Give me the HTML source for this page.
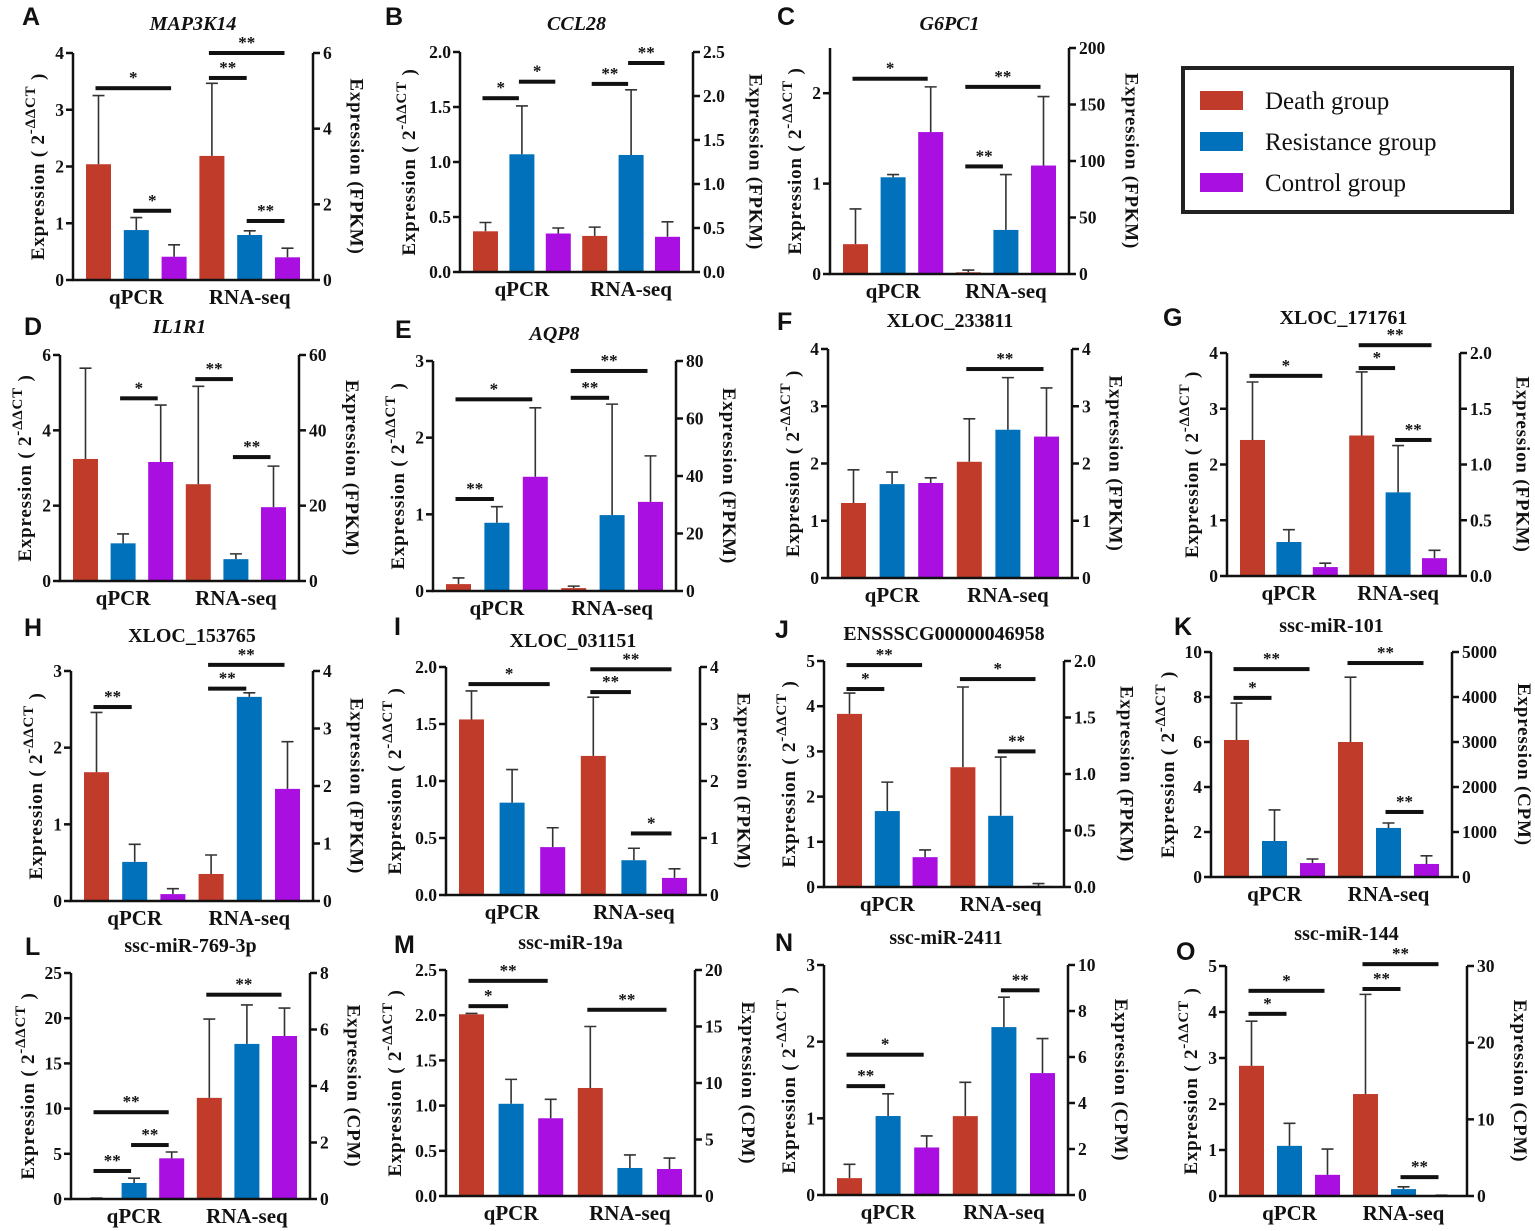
<!DOCTYPE html>
<html><head><meta charset="utf-8"><style>
body{margin:0;background:#fff}
svg{display:block}
.tk{font-family:"Liberation Serif",serif;font-weight:bold;font-size:17.5px;fill:#111}
.ax{font-family:"Liberation Serif",serif;font-weight:bold;font-size:19px;letter-spacing:0.8px;fill:#111}
.cat{font-family:"Liberation Serif",serif;font-weight:bold;font-size:21px;fill:#111}
.ttl{font-family:"Liberation Serif",serif;font-weight:bold;font-size:20px;fill:#111}
.let{font-family:"Liberation Sans",sans-serif;font-weight:bold;font-size:25px;fill:#111}
.st{font-family:"Liberation Serif",serif;font-weight:bold;font-size:17px;fill:#111}
.lg{font-family:"Liberation Serif",serif;font-size:25px;fill:#111}
</style></head><body>
<svg id="fig" width="1535" height="1231" viewBox="0 0 1535 1231" xmlns="http://www.w3.org/2000/svg">
<g>
<rect x="1183" y="68" width="329" height="144" fill="#fff" stroke="#222" stroke-width="4"/>
<rect x="1200" y="91" width="43" height="19" fill="#C13B2B"/>
<text class="lg" x="1265" y="109">Death group</text>
<rect x="1200" y="132" width="43" height="19" fill="#0071BA"/>
<text class="lg" x="1265" y="150">Resistance group</text>
<rect x="1200" y="173" width="43" height="19" fill="#A80FE0"/>
<text class="lg" x="1265" y="191">Control group</text>
</g>
</svg>
<script>
const panelIds=["A","B","C","D","E","F","G","H","I","J","K","L","M","N","O"];
const titles=["MAP3K14","CCL28","G6PC1","IL1R1","AQP8","XLOC_233811","XLOC_171761","XLOC_153765","XLOC_031151","ENSSSCG00000046958","ssc-miR-101","ssc-miR-769-3p","ssc-miR-19a","ssc-miR-2411","ssc-miR-144"];
const italicTitle=[1,1,1,1,1,0,0,0,0,0,0,0,0,0,0];
const rightUnits=["FPKM","FPKM","FPKM","FPKM","FPKM","FPKM","FPKM","FPKM","FPKM","FPKM","CPM","CPM","CPM","CPM","CPM"];
const leftMax=[4,2,2.5,6,3,4,4,3,2,5,10,25,2.5,3,5];
const rightMax=[6,2.5,200,60,80,4,2,4,4,2,5000,8,20,10,30];
const leftTicks=[["0","1","2","3","4"],["0.0","0.5","1.0","1.5","2.0"],["0","1","2"],["0","2","4","6"],["0","1","2","3"],["0","1","2","3","4"],["0","1","2","3","4"],["0","1","2","3"],["0.0","0.5","1.0","1.5","2.0"],["0","1","2","3","4","5"],["0","2","4","6","8","10"],["0","5","10","15","20","25"],["0.0","0.5","1.0","1.5","2.0","2.5"],["0","1","2","3"],["0","1","2","3","4","5"]];
const rightTicks=[["0","2","4","6"],["0.0","0.5","1.0","1.5","2.0","2.5"],["0","50","100","150","200"],["0","20","40","60"],["0","20","40","60","80"],["0","1","2","3","4"],["0.0","0.5","1.0","1.5","2.0"],["0","1","2","3","4"],["0","1","2","3","4"],["0.0","0.5","1.0","1.5","2.0"],["0","1000","2000","3000","4000","5000"],["0","2","4","6","8"],["0","5","10","15","20"],["0","2","4","6","8","10"],["0","10","20","30"]];
const qpcrVals=[[2.04,0.88,0.41],[0.37,1.07,0.35],[0.33,1.07,1.57],[3.24,1.0,3.16],[0.09,0.89,1.49],[1.31,1.64,1.66],[2.44,0.61,0.16],[1.68,0.51,0.09],[1.54,0.81,0.42],[3.83,1.68,0.66],[6.09,1.6,0.62],[0.1,1.77,4.5],[2.01,1.02,0.86],[0.22,1.03,0.62],[2.83,1.09,0.46]];
const qpcrErr=[[3.25,1.1,0.62],[0.45,1.51,0.40],[0.72,1.1,2.07],[5.65,1.25,4.67],[0.17,1.1,2.39],[1.89,1.85,1.75],[3.48,0.83,0.23],[2.46,0.74,0.16],[1.79,1.1,0.59],[4.29,2.32,0.82],[7.73,2.98,0.8],[0.1,2.3,5.2],[2.02,1.29,1.07],[0.4,1.32,0.77],[3.8,1.58,1.02]];
const rnaVals=[[3.28,1.19,0.6],[0.41,1.33,0.40],[1.5,39,96],[25.7,5.8,19.6],[1.0,26.4,31],[2.03,2.59,2.47],[1.26,0.75,0.16],[0.47,3.55,1.95],[2.44,0.61,0.3],[1.06,0.63,0.01],[3000,1090,290],[3.58,5.49,5.77],[9.56,2.48,2.39],[3.43,7.3,5.3],[13.3,0.9,0.1]];
const rnaErr=[[5.2,1.3,0.84],[0.51,2.07,0.57],[3.5,88,157],[51.7,7.2,30.5],[1.7,65,47],[2.78,3.5,3.32],[1.83,1.17,0.23],[0.8,3.62,2.77],[3.47,0.82,0.46],[1.77,1.15,0.03],[4440,1200,470],[6.37,6.87,6.76],[15.0,3.63,3.36],[4.9,8.6,6.8],[26.3,1.2,0.1]];
const sigFrom=[[0,1,3,3,4],[0,1,3,4],[0,3,3],[1,3,4],[0,0,3,3],[3],[0,3,3,4],[0,3,3],[0,3,3,4],[0,0,3,4],[0,0,3,4],[0,1,0,3],[0,0,3],[0,0,4],[0,0,3,3,4]];
const sigTo=[[2,2,4,5,5],[1,2,4,5],[2,5,4],[2,4,5],[1,2,4,5],[5],[2,4,5,5],[1,4,5],[2,4,5,5],[1,2,5,5],[1,2,5,5],[1,2,2,5],[1,2,5],[1,2,5],[1,2,4,5,5]];
const sigLevel=[[3.38,1.22,3.56,4.0,1.04],[1.58,1.73,1.71,1.90],[2.16,2.07,1.19],[4.85,5.36,3.29],[1.2,2.5,2.52,2.87],[3.65],[3.59,3.73,4.14,2.44],[2.53,2.77,3.08],[1.85,1.78,1.98,0.54],[4.38,4.91,4.6,3.0],[7.96,9.24,9.51,2.89],[3.1,5.97,9.6,22.6],[2.1,2.38,2.06],[1.42,1.83,2.67],[3.96,4.46,4.5,5.04,0.41]];
const sigText=[["*","*","**","**","**"],["*","*","**","**"],["*","**","**"],["*","**","**"],["**","*","**","**"],["**"],["*","*","**","**"],["**","**","**"],["*","**","**","*"],["*","**","*","**"],["*","**","**","**"],["**","**","**","**"],["*","**","**"],["**","*","**"],["*","*","**","**","**"]];
// layout (pixels): [left axis x, right axis x, top y, bottom y, letter x, letter y, title y]
const layout=[[73,313,53,280,22,25,30],[460,693,52,272,385,25,30],[830,1069,48,274,777,25,30],
[60,299,355,581,24,335,333],[433,676,361,591,395,338,340],[828,1072,349,578,777,330,327],[1227,1460,353,576,1163,326,324],
[71,313,671,901,24,636,642],[446,700,667,895,394,635,647],[824,1064,661,887,775,638,640],[1211,1452,652,877,1174,635,632],
[71,310,973,1199,25,955,952],[446,695,970,1196,394,953,949],[824,1068,965,1195,775,951,944],[1226,1467,966,1196,1176,960,940]];
const colors=["#C13B2B","#0071BA","#A80FE0"];
const groups=["death","resistance","control"];
const svg=document.getElementById('fig');
const NS="http://www.w3.org/2000/svg";
function mk(tag,attrs,parent,txt){const e=document.createElementNS(NS,tag);for(const k in attrs)e.setAttribute(k,attrs[k]);if(txt!==undefined)e.textContent=txt;parent.appendChild(e);return e;}
panelIds.forEach((id,p)=>{
  const [L,R,T,B,lx,ly,ty]=layout[p];
  const g=mk('g',{},svg);
  
  
  const yL=v=>B-(v/leftMax[p])*(B-T);
  const yR=v=>B-(v/rightMax[p])*(B-T);
  const pitch=(R-L-26-25)/5;
  const bx=i=>L+13+i*pitch;
  const bc=i=>bx(i)+12.5;
  const lt=mk('text',{x:lx,y:ly,class:'let'},g,id);
  
  
  const tt=mk('text',{x:(L+R)/2,y:ty,class:'ttl','text-anchor':'middle','font-style':italicTitle[p]?'italic':'normal'},g,titles[p]);
  
  
  for(let i=0;i<6;i++){
    const isQ=i<3, k=i%3;
    const v=isQ?qpcrVals[p][k]:rnaVals[p][k];
    const e=isQ?qpcrErr[p][k]:rnaErr[p][k];
    const yf=isQ?yL:yR;
    const yv=yf(v), ye=yf(e);
    const r=mk('rect',{x:bx(i),y:yv,width:25,height:Math.max(0,B-yv),fill:colors[k]},g);
    
    
    const eb=mk('path',{d:`M${bc(i)},${yv}V${ye}M${bc(i)-6},${ye}H${bc(i)+6}`,stroke:'#333',"stroke-width":1.6,fill:'none'},g);
    
    
  }
  const ax=mk('path',{d:`M${L},${T}V${B}H${R}M${R},${T}V${B}`,stroke:'#111',"stroke-width":2.5,fill:'none'},g);
  
  
  leftTicks[p].forEach(t=>{const y=yL(parseFloat(t));
    mk('path',{d:`M${L-7},${y}H${L}`,stroke:'#111',"stroke-width":2.5},g);
    const tx=mk('text',{x:L-9,y:y+6,class:'tk','text-anchor':'end'},g,t);
    
    });
  rightTicks[p].forEach(t=>{const y=yR(parseFloat(t));
    mk('path',{d:`M${R},${y}H${R+7}`,stroke:'#111',"stroke-width":2.5},g);
    const tx=mk('text',{x:R+10,y:y+6,class:'tk','text-anchor':'start'},g,t);
    
    });
  const ym=(T+B)/2;
  const lw=Math.max(...leftTicks[p].map(s=>s.length));
  const la=mk('text',{class:'ax','text-anchor':'middle',transform:`translate(${L-(27+lw*8)+6},${ym}) rotate(-90)`},g);
  
  
  la.innerHTML='Expression ( 2<tspan dy="-9" font-size="15">-ΔΔCT</tspan><tspan dy="9"> )</tspan>';
  const rw=rightTicks[p][rightTicks[p].length-1].length;
  const ra=mk('text',{class:'ax','text-anchor':'middle',transform:`translate(${R+34+rw*9.5-6},${ym}) rotate(90)`},g,'Expression ('+rightUnits[p]+')');
  
  
  const c1=mk('text',{x:bc(1),y:B+24,class:'cat','text-anchor':'middle'},g,'qPCR');
  
  
  const c2=mk('text',{x:bc(4),y:B+24,class:'cat','text-anchor':'middle'},g,'RNA-seq');
  
  
  sigFrom[p].forEach((f,j)=>{
    const t=sigTo[p][j], y=yL(sigLevel[p][j]);
    const x1=bc(f)-3, x2=bc(t)-3;
    const sl=mk('rect',{x:x1,y:y-2,width:x2-x1,height:4,fill:'#111'},g);
    
    
    const st=mk('text',{x:(x1+x2)/2,y:y-5,class:'st','text-anchor':'middle'},g,sigText[p][j]);
    
    
  });
});
</script>
</body></html>
